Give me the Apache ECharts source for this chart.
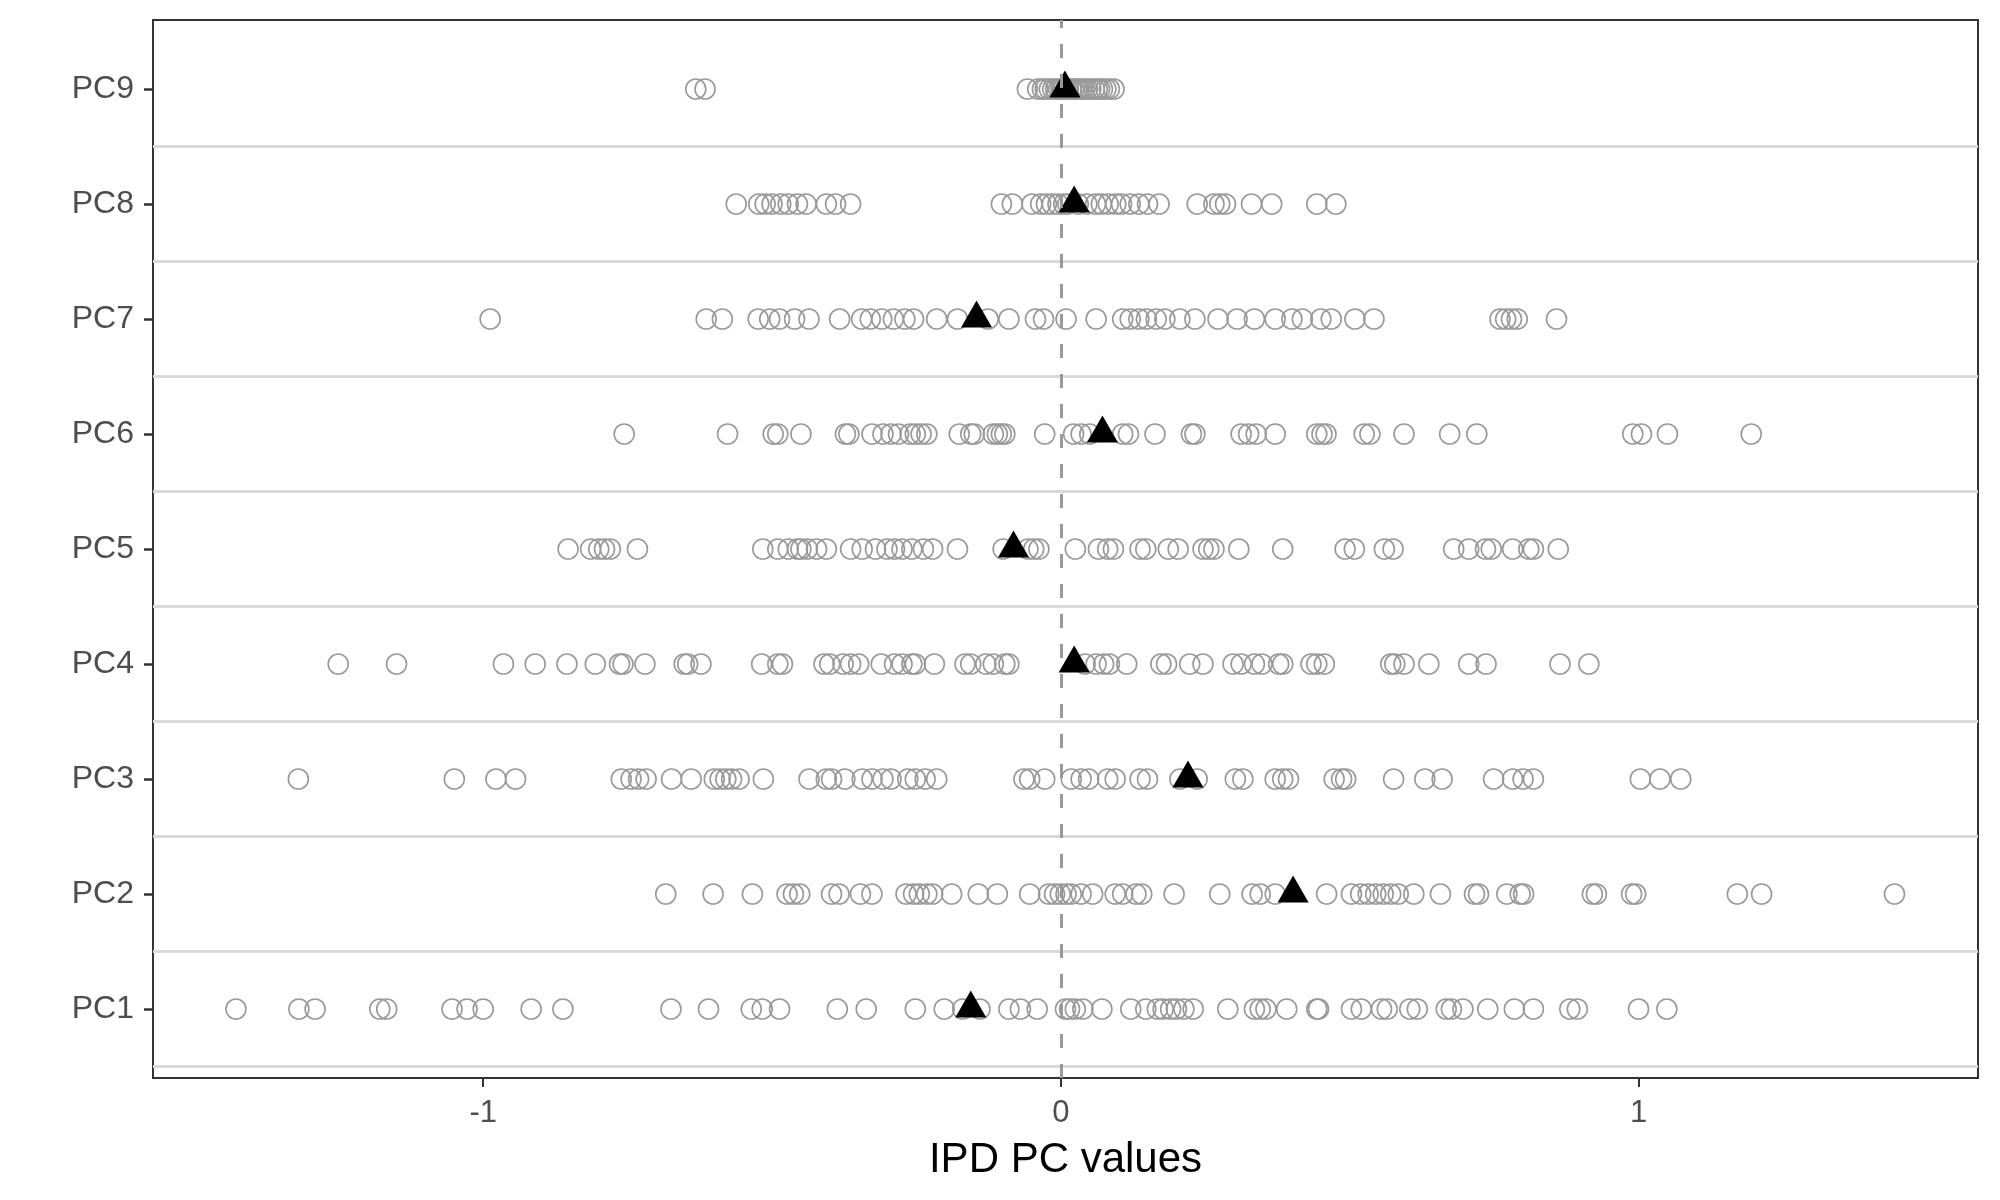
<!DOCTYPE html>
<html><head><meta charset="utf-8">
<script src="https://cdn.jsdelivr.net/npm/echarts@6/dist/echarts.min.js"></script>
<style>html,body{margin:0;padding:0;background:#fff}#c{width:2000px;height:1200px}</style>
</head><body><div id="c"></div>
<script>
const categories = ['PC1','PC2','PC3','PC4','PC5','PC6','PC7','PC8','PC9'];
const xTicks = [-1, 0, 1];

const pc1 = [-1.428,-1.319,-1.291,-1.179,-1.167,-1.054,-1.028,-1.0,-0.917,-0.862,-0.675,-0.61,-0.536,-0.517,-0.487,-0.387,-0.337,-0.252,-0.202,-0.17,-0.14,-0.09,-0.07,-0.041,0.008,0.015,0.025,0.038,0.071,0.121,0.147,0.167,0.177,0.19,0.2,0.213,0.229,0.289,0.335,0.345,0.355,0.391,0.443,0.446,0.503,0.52,0.555,0.565,0.604,0.617,0.667,0.676,0.696,0.739,0.785,0.818,0.881,0.894,1.0,1.049];
const pc2 = [-0.684,-0.602,-0.534,-0.474,-0.463,-0.452,-0.397,-0.384,-0.347,-0.327,-0.268,-0.255,-0.245,-0.232,-0.222,-0.189,-0.143,-0.11,-0.054,-0.021,-0.011,-0.001,0.009,0.018,0.035,0.055,0.094,0.107,0.13,0.14,0.196,0.275,0.331,0.345,0.371,0.46,0.503,0.519,0.532,0.545,0.558,0.571,0.584,0.611,0.657,0.716,0.723,0.772,0.795,0.801,0.92,0.927,0.988,0.995,1.171,1.213,1.443];
const pc3 = [-1.32,-1.05,-0.978,-0.944,-0.761,-0.744,-0.731,-0.718,-0.674,-0.64,-0.6,-0.59,-0.58,-0.57,-0.557,-0.515,-0.436,-0.406,-0.397,-0.374,-0.344,-0.327,-0.308,-0.294,-0.265,-0.252,-0.235,-0.215,-0.064,-0.054,-0.028,0.018,0.035,0.048,0.081,0.094,0.137,0.15,0.206,0.236,0.302,0.315,0.371,0.384,0.394,0.473,0.486,0.493,0.576,0.63,0.66,0.749,0.782,0.8,0.818,1.003,1.037,1.073];
const pc4 = [-1.251,-1.15,-0.965,-0.91,-0.855,-0.806,-0.764,-0.758,-0.72,-0.652,-0.646,-0.623,-0.518,-0.49,-0.482,-0.41,-0.4,-0.377,-0.364,-0.35,-0.311,-0.288,-0.275,-0.258,-0.252,-0.219,-0.166,-0.156,-0.13,-0.117,-0.097,-0.09,0.042,0.061,0.074,0.084,0.114,0.173,0.183,0.223,0.246,0.298,0.312,0.335,0.348,0.377,0.384,0.433,0.443,0.456,0.571,0.578,0.594,0.637,0.706,0.736,0.864,0.914];
const pc5 = [-0.853,-0.814,-0.8,-0.79,-0.78,-0.733,-0.516,-0.49,-0.472,-0.456,-0.45,-0.439,-0.423,-0.406,-0.364,-0.344,-0.321,-0.301,-0.288,-0.275,-0.258,-0.238,-0.222,-0.179,-0.1,-0.057,-0.047,-0.038,0.025,0.065,0.081,0.091,0.137,0.147,0.186,0.203,0.246,0.256,0.265,0.308,0.384,0.492,0.508,0.56,0.575,0.68,0.706,0.735,0.745,0.782,0.81,0.818,0.861];
const pc6 = [-0.756,-0.577,-0.498,-0.49,-0.45,-0.373,-0.367,-0.327,-0.308,-0.294,-0.281,-0.261,-0.252,-0.242,-0.232,-0.176,-0.156,-0.15,-0.117,-0.11,-0.103,-0.097,-0.028,0.022,0.035,0.05,0.107,0.117,0.163,0.226,0.232,0.312,0.325,0.338,0.371,0.443,0.452,0.459,0.525,0.535,0.594,0.673,0.72,0.99,1.005,1.05,1.195];
const pc7 = [-0.988,-0.614,-0.586,-0.524,-0.504,-0.487,-0.461,-0.436,-0.383,-0.345,-0.33,-0.31,-0.29,-0.27,-0.255,-0.215,-0.179,-0.126,-0.09,-0.044,-0.03,0.009,0.061,0.107,0.12,0.135,0.148,0.165,0.18,0.206,0.232,0.272,0.305,0.335,0.371,0.4,0.418,0.45,0.468,0.509,0.542,0.76,0.77,0.78,0.79,0.858];
const pc8 = [-0.562,-0.523,-0.512,-0.5,-0.485,-0.472,-0.456,-0.441,-0.406,-0.39,-0.364,-0.103,-0.084,-0.05,-0.035,-0.025,-0.015,-0.005,0.005,0.012,0.03,0.045,0.06,0.07,0.082,0.095,0.105,0.12,0.135,0.15,0.17,0.236,0.265,0.275,0.285,0.33,0.365,0.443,0.476];
const pc9 = [-0.632,-0.616,-0.058,-0.04,-0.032,-0.027,-0.02,-0.014,-0.009,-0.004,0.0,0.004,0.009,0.013,0.018,0.022,0.027,0.031,0.036,0.041,0.046,0.052,0.058,0.063,0.067,0.072,0.078,0.084,0.092];
const means = [-0.156, 0.402, 0.22, 0.023, -0.082, 0.072, -0.146, 0.023, 0.007];

const rows = [pc1, pc2, pc3, pc4, pc5, pc6, pc7, pc8, pc9];
const pointData = [];
rows.forEach((vals, i) => vals.forEach(v => pointData.push([v, i + 1])));
const meanData = means.map((v, i) => [v, i + 1]);
const catPos = categories.map((c, i) => i + 1);
const refLines = categories.map((c, i) => ({ yAxis: i + 0.5 }));
refLines.push({ xAxis: 0, lineStyle: { color: '#999999', width: 3, type: [14, 16] } });

const FONT = '"Liberation Sans", Arial, sans-serif';
const chart = echarts.init(document.getElementById('c'), null, { renderer: 'canvas' });
chart.setOption({
  animation: false,
  backgroundColor: '#ffffff',
  grid: { left: 153, right: 22, top: 20, bottom: 122, show: true, borderColor: '#333333', borderWidth: 2, backgroundColor: '#ffffff' },
  xAxis: {
    type: 'value', min: -1.5716, max: 1.5876,
    name: 'IPD PC values', nameLocation: 'middle', nameGap: 61,
    nameTextStyle: { fontFamily: FONT, fontSize: 42, color: '#000000' },
    axisLine: { show: true, onZero: false, lineStyle: { color: '#333333', width: 2 } },
    axisTick: { show: true, length: 9, customValues: xTicks, lineStyle: { color: '#333333', width: 2 } },
    axisLabel: { customValues: xTicks, margin: 20, fontFamily: FONT, fontSize: 31, color: '#4d4d4d', formatter: v => String(v) },
    splitLine: { show: false }
  },
  yAxis: {
    type: 'value', min: 0.4, max: 9.6,
    axisLine: { show: true, onZero: false, lineStyle: { color: '#333333', width: 2 } },
    axisTick: { show: true, length: 9, customValues: catPos, lineStyle: { color: '#333333', width: 2.5 } },
    axisLabel: { customValues: catPos, margin: 19, fontFamily: FONT, fontSize: 32, color: '#4d4d4d', formatter: v => categories[Math.round(v) - 1] },
    splitLine: { show: false }
  },
  series: [
    {
      type: 'scatter', data: pointData, symbol: 'circle', symbolSize: 20, z: 2,
      itemStyle: { color: 'rgba(0,0,0,0)', borderColor: '#999999', borderWidth: 1.6, opacity: 1 },
      silent: true,
      markLine: {
        silent: true, symbol: 'none', label: { show: false }, animation: false,
        lineStyle: { color: '#d9d9d9', width: 3.2, type: 'solid' },
        data: refLines
      }
    },
    {
      type: 'scatter', data: meanData, symbol: 'triangle', symbolSize: [31, 27], symbolOffset: [0, -5], z: 4,
      itemStyle: { color: '#000000', opacity: 1 }, silent: true
    }
  ]
});
</script>
</body></html>
